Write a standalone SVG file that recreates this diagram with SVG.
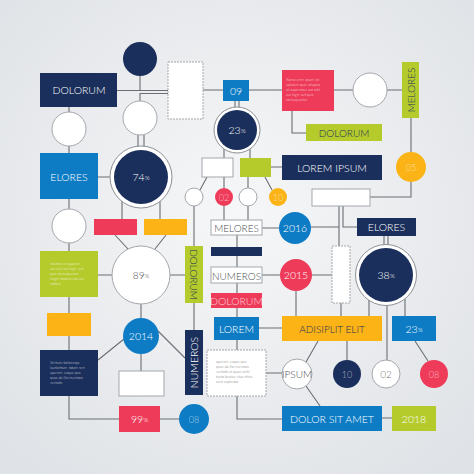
<svg xmlns="http://www.w3.org/2000/svg" width="474" height="474" viewBox="0 0 474 474">
<defs>
<radialGradient id="bg" cx="50%" cy="45%" r="70%">
<stop offset="0" stop-color="#f6f7f8"/>
<stop offset="1" stop-color="#dfe2e6"/>
</radialGradient>
<style>
.c{fill:none;stroke:#6b6e73;stroke-width:1.1}
.navy{fill:#1b2f5c}
.blue{fill:#0d7cc5}
.red{fill:#ee3b59}
.lime{fill:#b5cb2c}
.yel{fill:#fbb316}
.wh{fill:#ffffff;stroke:#a4a7ab;stroke-width:1}
.whd{fill:#ffffff;stroke:#a4a7ab;stroke-width:1;stroke-dasharray:2 1}
.ring{fill:#ffffff;stroke:#8d9095;stroke-width:1}
text{font-family:Lato,"Open Sans","Liberation Sans",sans-serif;font-weight:300;text-anchor:middle;dominant-baseline:central}
.tw{fill:#ffffff;font-size:10.5px}
.tn{fill:#1b2f5c;font-size:10px}
.tg{fill:#4a4d52;font-size:10px}
.tf{fill:#ffffff;fill-opacity:0.6;font-size:9px}
.sm{font-size:3.6px;text-anchor:start;dominant-baseline:auto}
.pc{font-size:0.6em}
</style>
</defs>
<rect width="474" height="474" fill="url(#bg)"/>

<g id="connectors">
<path class="c" d="M140,76V90.5H168M117,90.5H140M140,101V93.5H168"/>
<path class="c" d="M69,107V112M69,146V153M69,199V209M69,243V251M69,297V313M69,336V350M69,396V419H119"/>
<path class="c" d="M138,135V147M144,135V147M98,177H110M122,201V219M160,201V219"/>
<path class="c" d="M115,235L128,249M166,235L155,249M98,275H112M170,275H185M141,304V318M141,354V371"/>
<path class="c" d="M98,360L124,339M158,331L185,358M160,419H179"/>
<path class="c" d="M203,90H223M249,90H282M334,90H353M387,90H402"/>
<path class="c" d="M235,101V108M239,101V108M224,149V158M250,149V158"/>
<path class="c" d="M292,111V133H306M411,118V152M411,182V197H370M271,167H282"/>
<path class="c" d="M207,177L200,190M224,177V188M248,177V188M265,177L272,190"/>
<path class="c" d="M194,206V246M224,206V220M248,206V220M194,303V330"/>
<path class="c" d="M237,235V267M237,283V293M237,308V317M237,340V350M237,396V419H282"/>
<path class="c" d="M262,228H279M262,275H280M296,291V316M259,328H282"/>
<path class="c" d="M311,227H339M339,206V246M343,206V227H357M332,275H312M341,303V316"/>
<path class="c" d="M384,236V245M388,236V245M369,300V316M405,299V316M387,302V360M347,341V360M415,341L428,361"/>
<path class="c" d="M266,373H282M318,341L306,362M306,386L320,406M382,418H392"/>
</g>

<g id="n-top-circle"><circle class="navy" cx="140" cy="59" r="17"/></g>
<g id="n-dolorum"><rect class="navy" x="40" y="73" width="77" height="34"/><text class="tw" x="79" y="90">DOLORUM</text></g>
<g id="n-tallrect"><rect class="whd" x="168" y="62" width="35" height="57"/></g>
<g id="n-09"><rect class="blue" x="223" y="80" width="26" height="21"/><text class="tw" x="236" y="91" font-size="10">09</text></g>
<g id="n-redtext"><rect class="red" x="282" y="70" width="52" height="41"/>
<text class="sm" fill="#fff" fill-opacity="0.8"><tspan x="286" y="81">Nemo enim ipsam vol</tspan><tspan x="286" y="86">uptatem quia voluptas</tspan><tspan x="286" y="91">sit aspernatur aut odit</tspan><tspan x="286" y="96">aut fugit, sed quia</tspan><tspan x="286" y="101">consequuntur</tspan></text></g>
<g id="n-wc-top"><circle class="wh" cx="370" cy="90" r="17"/></g>
<g id="n-melores-v"><rect class="lime" x="402" y="62" width="17" height="56"/><text class="tn" font-size="8.5" transform="translate(410.5,90) rotate(-90)">MELORES</text></g>
<g id="n-05"><circle class="yel" cx="411" cy="167" r="15"/><text class="tf" x="411" y="167">05</text></g>
<g id="n-dolorum-lime"><rect class="lime" x="306" y="124" width="76" height="17"/><text class="tn" x="344" y="133" font-size="9">DOLORUM</text></g>
<g id="n-23ring"><circle class="ring" cx="237" cy="130" r="23"/><circle class="navy" cx="237" cy="130" r="20"/><text class="tw" x="237" y="130" font-size="14">23<tspan class="pc">%</tspan></text></g>
<g id="n-wrect-mid"><rect class="wh" x="202" y="158" width="31" height="19"/></g>
<g id="n-lrect-mid"><rect class="lime" x="240" y="158" width="31" height="19"/></g>
<g id="n-loremipsum"><rect class="navy" x="282" y="155" width="100" height="25"/><text class="tw" x="332" y="168" font-size="11.5">LOREM IPSUM</text></g>
<g id="n-wc1"><circle class="wh" cx="194" cy="197" r="9"/></g>
<g id="n-02red"><circle class="red" cx="224" cy="197" r="9"/><text class="tf" x="224" y="197" font-size="7">02</text></g>
<g id="n-wc2"><circle class="wh" cx="248" cy="197" r="9"/></g>
<g id="n-10yel"><circle class="yel" cx="278" cy="197" r="9"/><text class="tf" x="278" y="197" font-size="7">10</text></g>
<g id="n-wc-left1"><circle class="wh" cx="69" cy="129" r="17"/></g>
<g id="n-wc-mid1"><circle class="wh" cx="140" cy="118" r="17"/></g>
<g id="n-elores"><rect class="blue" x="40" y="153" width="58" height="46"/><text class="tw" x="69" y="177">ELORES</text></g>
<g id="n-74"><circle class="ring" cx="141" cy="177" r="31"/><circle class="navy" cx="141" cy="177" r="27"/><text class="tw" x="141" y="177" font-size="17">74<tspan class="pc">%</tspan></text></g>
<g id="n-redbar"><rect class="red" x="94" y="219" width="43" height="16"/></g>
<g id="n-yelbar"><rect class="yel" x="144" y="219" width="43" height="16"/></g>
<g id="n-wc-left2"><circle class="wh" cx="69" cy="226" r="17"/></g>
<g id="n-limetext"><rect class="lime" x="40" y="251" width="58" height="46"/>
<text class="sm" fill="#fff" fill-opacity="0.85"><tspan x="50" y="265">volution et appetat</tspan><tspan x="50" y="270">aut velit aut fugit, sed</tspan><tspan x="50" y="275">quia consequuntur</tspan><tspan x="50" y="280">magni dolores eos qui</tspan><tspan x="50" y="285">ratione</tspan></text></g>
<g id="n-89"><circle class="wh" cx="141" cy="275" r="29"/><text class="tg" x="141" y="275" font-size="17">89<tspan class="pc">%</tspan></text></g>
<g id="n-yelrect"><rect class="yel" x="47" y="313" width="44" height="23"/></g>
<g id="n-2014"><circle class="blue" cx="141" cy="336" r="18"/><text class="tw" x="141" y="336">2014</text></g>
<g id="n-navytext"><rect class="navy" x="40" y="350" width="58" height="46"/>
<text class="sm" fill="#fff" fill-opacity="0.8"><tspan x="50" y="364">Veritum dolorempe</tspan><tspan x="50" y="369">laudantium, totam rem</tspan><tspan x="50" y="374">aperiam, eaque ipsa</tspan><tspan x="50" y="379">quae ab illo inventore</tspan><tspan x="50" y="384">veritatis</tspan></text></g>
<g id="n-wrect-low"><rect class="wh" x="119" y="371" width="45" height="25"/></g>
<g id="n-99"><rect class="red" x="119" y="406" width="41" height="26"/><text class="tw" x="139.5" y="419" font-size="14">99<tspan class="pc">%</tspan></text></g>
<g id="n-08blue"><circle class="blue" cx="194" cy="419" r="15"/><text class="tf" x="194" y="419">08</text></g>
<g id="n-dolorum-v"><rect class="lime" x="185" y="246" width="18" height="57"/><text class="tn" font-size="8.5" transform="translate(194,274.5) rotate(90)">DOLORUM</text></g>
<g id="n-numeros-v"><rect class="navy" x="185" y="330" width="18" height="65"/><text class="tw" font-size="8.5" transform="translate(194,362.5) rotate(-90)">NUMEROS</text></g>
<g id="n-melores"><rect class="wh" x="211" y="220" width="51" height="15"/><text class="tg" x="236.5" y="228" font-size="8">MELORES</text></g>
<g id="n-navybar"><rect class="navy" x="211" y="247" width="51" height="9"/></g>
<g id="n-numeros"><rect class="wh" x="211" y="267" width="51" height="16"/><text class="tg" x="236.5" y="275.5" font-size="8">NUMEROS</text></g>
<g id="n-dolorum-red"><rect class="red" x="211" y="293" width="51" height="15"/><text class="tw" x="236.5" y="301" font-size="7.5" fill-opacity="0.75">DOLORUM</text></g>
<g id="n-lorem"><rect class="blue" x="214" y="317" width="45" height="23"/><text class="tw" x="236.5" y="328.5" font-size="8.5">LOREM</text></g>
<g id="n-whitetext"><rect class="whd" x="207" y="350" width="59" height="46"/>
<text class="sm" fill="#777"><tspan x="216" y="363">aperiam, eaque ipsa</tspan><tspan x="216" y="368">quae ab illo inventore</tspan><tspan x="216" y="373">veritatis et quasi archi</tspan><tspan x="216" y="378">tecto beatae vitae dicta</tspan><tspan x="216" y="383">sunt explicabo</tspan></text></g>
<g id="n-2016"><circle class="blue" cx="295" cy="228" r="16"/><text class="tw" x="295" y="228">2016</text></g>
<g id="n-2015"><circle class="red" cx="296" cy="275" r="16"/><text class="tw" x="296" y="275">2015</text></g>
<g id="n-wrect-right"><rect class="wh" x="312" y="189" width="58" height="17"/></g>
<g id="n-tall-right"><rect class="whd" x="332" y="246" width="18" height="57"/></g>
<g id="n-elores-navy"><rect class="navy" x="357" y="218" width="59" height="18"/><text class="tw" x="386.5" y="227" font-size="10">ELORES</text></g>
<g id="n-38"><circle class="ring" cx="386" cy="275" r="30.5"/><circle class="navy" cx="386" cy="275" r="27"/><text class="tw" x="386" y="275" font-size="17">38<tspan class="pc">%</tspan></text></g>
<g id="n-adisiplit"><rect class="yel" x="282" y="316" width="100" height="25"/><text class="tn" x="332" y="328.5" font-size="10.5">ADISIPLIT ELIT</text></g>
<g id="n-23blue"><rect class="blue" x="392" y="316" width="44" height="25"/><text class="tw" x="414" y="328.5" font-size="14">23<tspan class="pc">%</tspan></text></g>
<g id="n-ipsum"><circle class="wh" cx="297" cy="374" r="15"/><text class="tg" x="297" y="374" font-size="8">IPSUM</text></g>
<g id="n-10navy"><circle class="navy" cx="347" cy="374" r="14"/><text class="tf" x="347" y="374">10</text></g>
<g id="n-02white"><circle class="wh" cx="386" cy="374" r="14"/><text class="tg" x="386" y="374" font-size="9" fill-opacity="0.8">02</text></g>
<g id="n-08red"><circle class="red" cx="434" cy="374" r="14"/><text class="tf" x="434" y="374">08</text></g>
<g id="n-dolorsit"><rect class="blue" x="282" y="406" width="100" height="25"/><text class="tw" x="332" y="418.5">DOLOR SIT AMET</text></g>
<g id="n-2018"><rect class="lime" x="392" y="406" width="44" height="25"/><text class="tw" x="414" y="418.5" font-size="10">2018</text></g>
</svg>
